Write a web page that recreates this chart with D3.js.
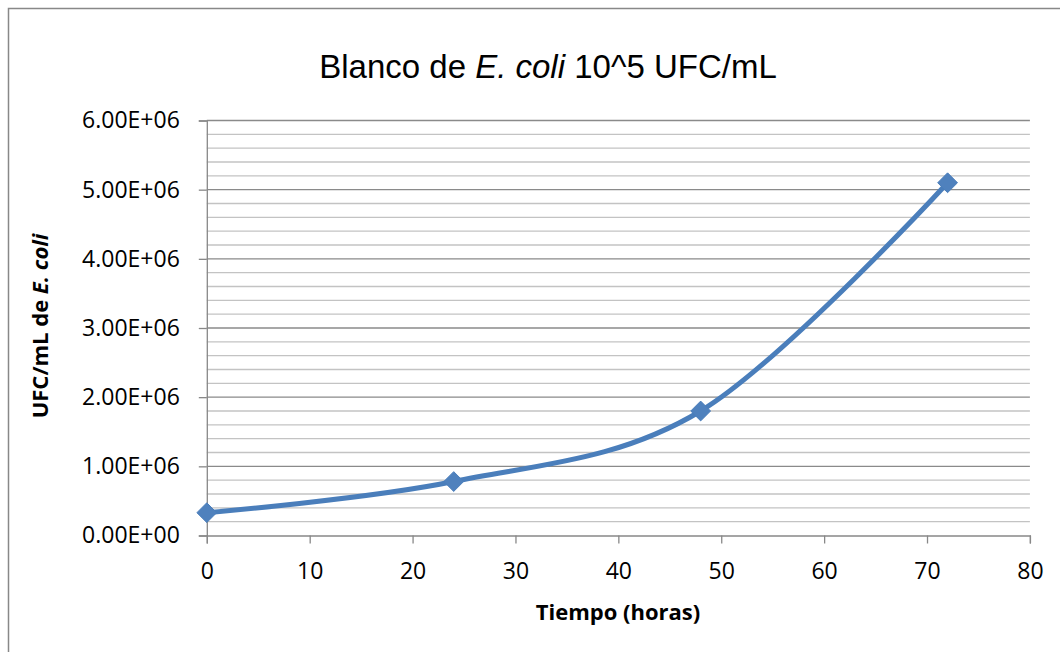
<!DOCTYPE html>
<html>
<head>
<meta charset="utf-8">
<script src="https://cdn.jsdelivr.net/npm/d3@7"></script>
<style>
  html, body { margin: 0; padding: 0; background: #fff; }
  svg { display: block; }
</style>
</head>
<body>
<svg id="chart" width="1060" height="652"></svg>
<script>
// Incubation time (hours) and colony counts (UFC/mL)
const hours = [0, 24, 48, 72];
const ufc = [3.3e5, 7.8e5, 1.8e6, 5.1e6];
const xTicks = [0, 10, 20, 30, 40, 50, 60, 70, 80];
const yTicks = [0, 1e6, 2e6, 3e6, 4e6, 5e6, 6e6];
const yTickLabels = ["0.00E+00", "1.00E+06", "2.00E+06", "3.00E+06", "4.00E+06", "5.00E+06", "6.00E+06"];
const yMinorTicks = d3.range(0, 6e6 + 1, 2e5);

const svg = d3.select("#chart");
const plotLeft = 206.8, plotRight = 1029.9, plotTop = 120.5, plotBottom = 535.5;
const labelFont = "'Open Sans', 'Noto Sans', sans-serif";

const x = d3.scaleLinear().domain([0, 80]).range([plotLeft, plotRight]);
const y = d3.scaleLinear().domain([0, 6e6]).range([plotBottom, plotTop]);

// chart frame
svg.append("rect")
  .attr("x", 8.5).attr("y", 8.5)
  .attr("width", 1200).attr("height", 800)
  .attr("fill", "#fff")
  .attr("stroke", "#888").attr("stroke-width", 1.5);

// minor gridlines
svg.append("g").selectAll("line")
  .data(yMinorTicks.filter(v => v % 1e6 !== 0))
  .join("line")
  .attr("x1", plotLeft).attr("x2", plotRight)
  .attr("y1", d => y(d)).attr("y2", d => y(d))
  .attr("stroke", "#c3c3c3").attr("stroke-width", 1.3);

// major gridlines
svg.append("g").selectAll("line")
  .data(yTicks.filter(v => v > 0))
  .join("line")
  .attr("x1", plotLeft).attr("x2", plotRight)
  .attr("y1", d => y(d)).attr("y2", d => y(d))
  .attr("stroke", "#8a8a8a").attr("stroke-width", 1.3);

// y axis
const yAxis = svg.append("g")
  .attr("transform", `translate(${plotLeft},0)`)
  .call(d3.axisLeft(y).tickValues(yTicks)
    .tickFormat((d, i) => yTickLabels[i])
    .tickSize(8).tickPadding(19));
yAxis.select(".domain").attr("stroke", "#888").attr("stroke-width", 1.3);
yAxis.selectAll(".tick line").attr("stroke", "#888").attr("stroke-width", 1.3);
yAxis.selectAll(".tick text")
  .attr("font-family", labelFont).attr("font-size", 23).attr("fill", "#000");

// x axis
const xAxis = svg.append("g")
  .attr("transform", `translate(0,${plotBottom})`)
  .call(d3.axisBottom(x).tickValues(xTicks).tickSize(8).tickPadding(19));
xAxis.select(".domain").attr("stroke", "#888").attr("stroke-width", 1.3);
xAxis.selectAll(".tick line").attr("stroke", "#888").attr("stroke-width", 1.3);
xAxis.selectAll(".tick text")
  .attr("font-family", labelFont).attr("font-size", 23).attr("fill", "#000");

// smoothed growth curve
const line = d3.line()
  .x((d, i) => x(hours[i]))
  .y(d => y(d))
  .curve(d3.curveCardinal.tension(0));

svg.append("path")
  .datum(ufc)
  .attr("d", line)
  .attr("fill", "none")
  .attr("stroke", "#4a7ebb")
  .attr("stroke-width", 5)
  .attr("stroke-linejoin", "round");

// diamond markers
const diamond = d3.symbol().type(d3.symbolDiamond2).size(250);
svg.append("g").selectAll("path")
  .data(ufc)
  .join("path")
  .attr("d", diamond)
  .attr("transform", (d, i) => `translate(${x(hours[i])},${y(d)})`)
  .attr("fill", "#4f81bd")
  .attr("stroke", "#4a7ebb")
  .attr("stroke-width", 1);

// title
const title = svg.append("text")
  .attr("x", 548).attr("y", 78)
  .attr("text-anchor", "middle")
  .attr("font-family", "'Liberation Sans', Arial, sans-serif")
  .attr("font-size", 33).attr("fill", "#000");
title.append("tspan").text("Blanco de ");
title.append("tspan").attr("font-style", "italic").text("E. coli");
title.append("tspan").text(" 10^5 UFC/mL");

// x axis title
svg.append("text")
  .attr("x", 618).attr("y", 620)
  .attr("text-anchor", "middle")
  .attr("font-family", labelFont).attr("font-weight", "bold")
  .attr("font-size", 22).attr("fill", "#000")
  .text("Tiempo (horas)");

// y axis title
const yTitle = svg.append("text")
  .attr("transform", "translate(48,326) rotate(-90)")
  .attr("text-anchor", "middle")
  .attr("font-family", labelFont).attr("font-weight", "bold")
  .attr("font-size", 22).attr("fill", "#000");
yTitle.append("tspan").text("UFC/mL de ");
yTitle.append("tspan").attr("font-style", "italic").text("E. coli");
</script>
</body>
</html>
